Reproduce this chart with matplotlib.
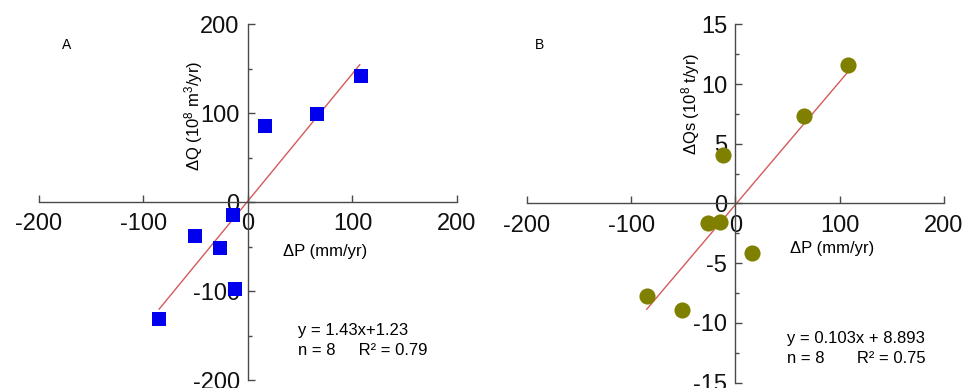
import numpy as np
import matplotlib
matplotlib.use("Agg")
import matplotlib.pyplot as plt
from matplotlib.ticker import MultipleLocator

plt.rcParams['font.family'] = ['Liberation Sans', 'DejaVu Sans']
plt.rcParams['mathtext.fontset'] = 'custom'
plt.rcParams['mathtext.rm'] = 'Liberation Sans'
plt.rcParams['mathtext.default'] = 'regular'
plt.rcParams['axes.unicode_minus'] = False

# Data
dP = [108, 66, 16, -14, -51, -27, -12, -85]
dQ = [142, 98.5, 85.5, -14.5, -38, -51.5, -98, -131.5]

dP_b = [108, 66, -12, -26.5, -14.5, 16, -85, -51.5]
dQs = [11.57, 7.3, 4.05, -1.63, -1.52, -4.18, -7.78, -8.9]

fit_a = (1.43, 1.23)
fit_b = (0.103, -0.1)
fit_range = (-85, 107)

x_ticks = [-200, -100, 0, 100, 200]
ya_ticks = [-200, -100, 0, 100, 200]
yb_ticks = [-15, -10, -5, 0, 5, 10, 15]

axis_col = '#4a4a4a'
line_col = '#d45a5a'

fig = plt.figure(figsize=(9.63, 3.88), dpi=100)
axA = fig.add_axes([0.0405, 0.0206, 0.434, 0.9175])
axB = fig.add_axes([0.547, 0.0137, 0.4333, 0.9237])


def style(ax, ylim, yticks, yminor):
    ax.set_xlim(-200, 200)
    ax.set_ylim(*ylim)
    for s in ['top', 'right']:
        ax.spines[s].set_visible(False)
    ax.spines['left'].set_position(('data', 0))
    ax.spines['bottom'].set_position(('data', 0))
    for s in ['left', 'bottom']:
        ax.spines[s].set_color(axis_col)
        ax.spines[s].set_linewidth(1.0)
    ax.set_xticks(x_ticks)
    ax.set_yticks(yticks)
    ax.yaxis.set_minor_locator(MultipleLocator(yminor))
    ax.tick_params(axis='both', which='both', direction='in', color=axis_col,
                   labelsize=17, width=1.0, labelcolor='#111111')
    ax.tick_params(axis='both', which='major', length=5)
    ax.tick_params(axis='y', which='minor', length=3)
    ax.tick_params(axis='x', pad=8)
    ax.tick_params(axis='y', pad=6)
    ax.patch.set_visible(False)


style(axA, (-200, 200), ya_ticks, 50)
style(axB, (-15, 15), yb_ticks, 2.5)

xs = np.array(fit_range)
axA.plot(xs, fit_a[0] * xs + fit_a[1], color=line_col, lw=1.0, zorder=2)
axA.scatter(dP, dQ, marker='s', s=100, color='#0000ee', zorder=3, linewidths=0)

axB.plot(xs, fit_b[0] * xs + fit_b[1], color=line_col, lw=1.0, zorder=2)
axB.scatter(dP_b, dQs, marker='o', s=135, color='#808000', zorder=3, linewidths=0)

# Labels
axA.text(-52, 97, r'ΔQ (10$^{8}$ m$^{3}$/yr)', rotation=90, ha='center', va='center', fontsize=12)
axA.text(74, -56, 'ΔP (mm/yr)', ha='center', va='center', fontsize=12)
axA.text(-174, 176, 'A', ha='center', va='center', fontsize=10)
axA.text(48, -144, 'y = 1.43x+1.23', ha='left', va='center', fontsize=12)
axA.text(48, -167, 'n = 8     R² = 0.79', ha='left', va='center', fontsize=12)

axB.text(-43, 8.3, r'ΔQs (10$^{8}$ t/yr)', rotation=90, ha='center', va='center', fontsize=12)
axB.text(93, -3.74, 'ΔP (mm/yr)', ha='center', va='center', fontsize=12)
axB.text(-188, 13.3, 'B', ha='center', va='center', fontsize=10)
axB.text(49, -11.3, 'y = 0.103x + 8.893', ha='left', va='center', fontsize=12)
axB.text(49, -13.0, 'n = 8       R² = 0.75', ha='left', va='center', fontsize=12)

fig.savefig('out.png', dpi=100)
